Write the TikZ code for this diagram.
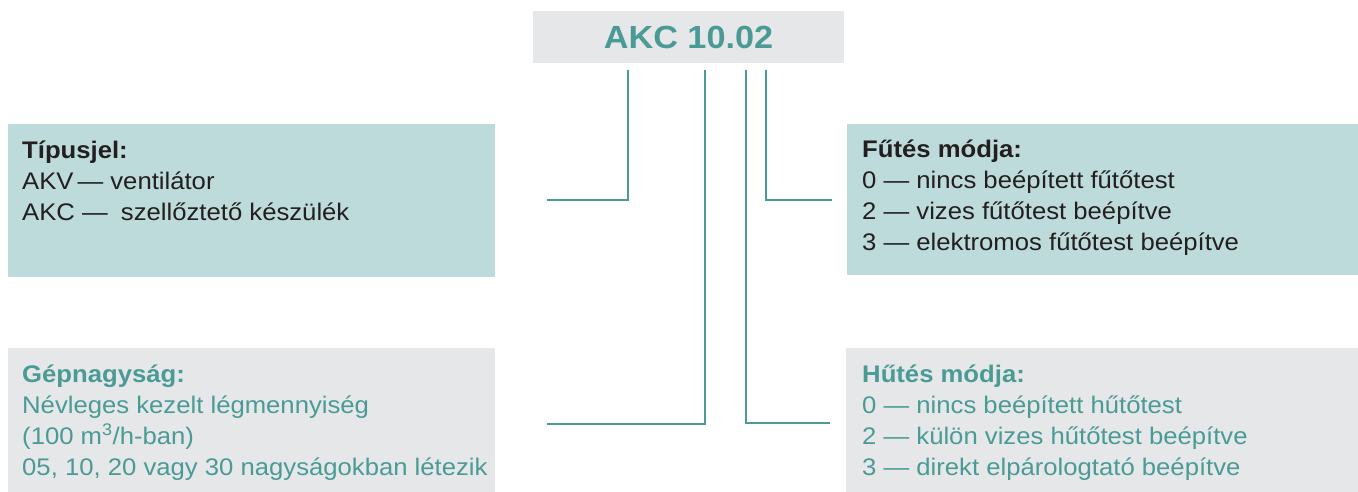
\documentclass[tikz,border=0pt]{standalone}
\usepackage{fontspec}
\setmainfont{Liberation Sans}[FakeStretch=1.07]
\usetikzlibrary{positioning}
\definecolor{akcteal}{HTML}{4A9B96}
\definecolor{akclight}{HTML}{BDDBDA}
\definecolor{akcgray}{HTML}{E6E7E8}
\definecolor{akcink}{HTML}{231F20}

\begin{document}
\begin{tikzpicture}[x=1pt,y=-1pt,
  greybox/.style={fill=akcgray,draw=none,anchor=north west,inner sep=0pt},
  tealbox/.style={fill=akclight,draw=none,anchor=north west,inner sep=0pt},
  boxtext/.style={anchor=north west,inner sep=0pt,align=left,
    font=\fontsize{24}{31}\selectfont},
  wire/.style={draw=akcteal,line width=2.4pt}]
\useasboundingbox (0,0) rectangle (1358,492);
% code box
\node[fill=akcgray,minimum width=311pt,minimum height=52pt,inner sep=0pt,
  text=akcteal,font=\bfseries\fontsize{32}{36}\selectfont] (code) at (688.5,37) {AKC 10.02};
% explanation boxes
\node[tealbox,minimum width=487pt,minimum height=153pt] (typ) at (8,124) {};
\node[tealbox,minimum width=511pt,minimum height=151pt] (heat) at (847,124) {};
\node[greybox,minimum width=487pt,minimum height=144pt] (size) at (8,348) {};
\node[greybox,minimum width=512pt,minimum height=144pt] (cool) at (846,348) {};
% texts
\node[boxtext,text=akcink] (typtxt) at ([xshift=14pt,yshift=-17pt]typ.north west)
  {\textbf{Típusjel:}\\AKV\,— ventilátor\\AKC —\hspace{0.55em}szellőztető készülék};
\node[boxtext,text=akcink] (heattxt) at ([xshift=15pt,yshift=-16pt]heat.north west)
  {\textbf{Fűtés módja:}\\0 — nincs beépített fűtőtest\\2 — vizes fűtőtest beépítve\\3 — elektromos fűtőtest beépítve};
\node[boxtext,text=akcteal] (sizetxt) at ([xshift=14pt,yshift=-17pt]size.north west)
  {\textbf{Gépnagyság:}\\Névleges kezelt légmennyiség\\(100 m\textsuperscript{3}/h-ban)\\05, 10, 20 vagy 30 nagyságokban létezik};
\node[boxtext,text=akcteal] (cooltxt) at ([xshift=16pt,yshift=-17pt]cool.north west)
  {\textbf{Hűtés módja:}\\0 — nincs beépített hűtőtest\\2 — külön vizes hűtőtest beépítve\\3 — direkt elpárologtató beépítve};
% connectors
\coordinate (typtop) at (628,70);
\coordinate (typend) at (547,200);
\coordinate (sizetop) at (705,70);
\coordinate (sizeend) at (547,424);
\coordinate (cooltop) at (746,70);
\coordinate (coolend) at (830,423);
\coordinate (heattop) at (766,70);
\coordinate (heatend) at (832,200);
\draw[wire] (typend) -| (typtop);
\draw[wire] (sizeend) -| (sizetop);
\draw[wire] (cooltop) |- (coolend);
\draw[wire] (heattop) |- (heatend);
\end{tikzpicture}
\end{document}
